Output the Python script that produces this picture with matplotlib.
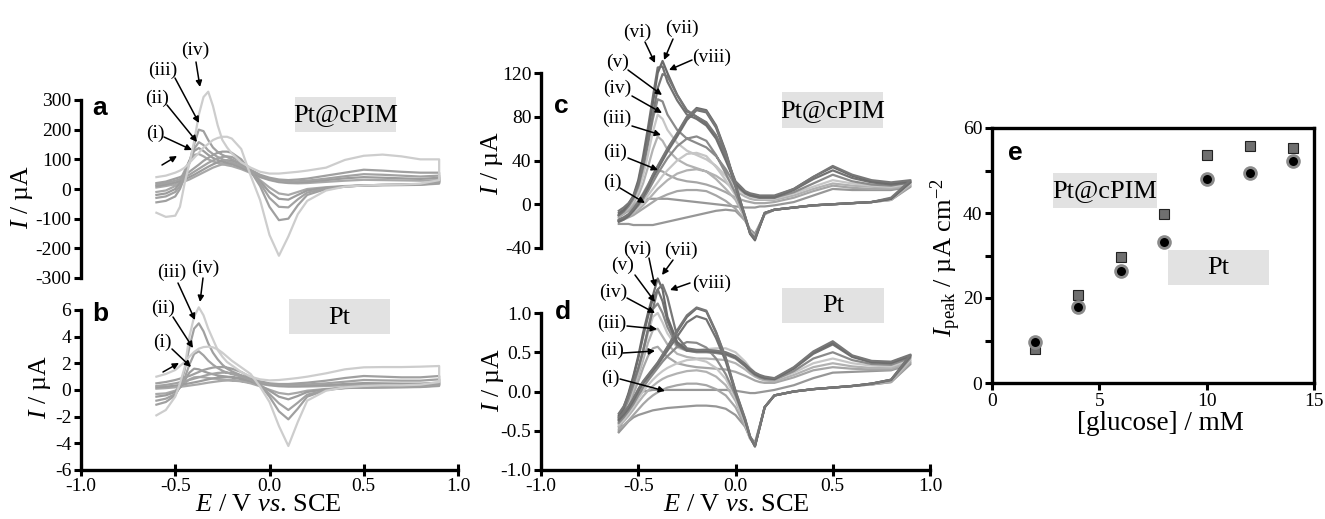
import numpy as np
import matplotlib
matplotlib.use('Agg')
import matplotlib.pyplot as plt
from matplotlib.patches import Rectangle

plt.rcParams['font.family'] = 'Liberation Serif'
plt.rcParams['mathtext.fontset'] = 'custom'
plt.rcParams['mathtext.rm'] = 'Liberation Serif'
plt.rcParams['mathtext.it'] = 'Liberation Serif:italic'
plt.rcParams['axes.unicode_minus'] = False

W, H = 1325, 519

# ---------------- data ----------------
# potential grids (V vs SCE), one sweep each way
E_ab = [-0.6, -0.55, -0.5, -0.475, -0.45, -0.425, -0.4, -0.375, -0.35, -0.325,
        -0.3, -0.275, -0.25, -0.225, -0.2, -0.15, -0.1, -0.05, 0.0, 0.05,
        0.1, 0.15, 0.2, 0.3, 0.4, 0.5, 0.6, 0.7, 0.8, 0.9]
E_cd = [-0.6, -0.575, -0.55, -0.525, -0.5, -0.475, -0.45, -0.425, -0.4, -0.375,
        -0.35, -0.3, -0.25, -0.2, -0.15, -0.1, -0.05, 0.0, 0.05, 0.075,
        0.1, 0.125, 0.15, 0.2, 0.3, 0.4, 0.5, 0.6, 0.7, 0.8, 0.9]

# panel a, Pt@cPIM (uA): forward sweep / reverse sweep
a0_fwd = [-10, -5, 10, 30, 62, 95, 115, 118, 110, 100, 93, 88, 84, 80, 77, 67, 54, 40, 30, 23, 20, 19, 20, 24, 28, 31, 30, 29, 28, 30]
a0_rev = [5, 10, 16, 20, 26, 32, 40, 48, 56, 64, 72, 78, 83, 86, 86, 78, 56, 30, 5, -15, -20, -10, 0, 6, 10, 12, 13, 13, 14, 18]
a1_fwd = [-20, -15, 0, 20, 55, 95, 128, 138, 128, 115, 105, 98, 92, 88, 84, 72, 58, 42, 32, 25, 22, 22, 24, 30, 36, 40, 38, 36, 34, 38]
a1_rev = [10, 15, 22, 27, 33, 40, 48, 57, 66, 75, 83, 90, 95, 97, 96, 85, 58, 25, -10, -33, -36, -20, -5, 4, 9, 12, 13, 14, 15, 20]
a2_fwd = [-30, -25, -10, 10, 45, 90, 135, 158, 148, 130, 118, 108, 100, 95, 90, 78, 62, 45, 35, 28, 25, 26, 28, 35, 43, 50, 48, 45, 42, 45]
a2_rev = [15, 20, 28, 33, 40, 48, 58, 68, 78, 88, 96, 103, 108, 110, 108, 92, 60, 20, -30, -60, -62, -35, -12, 2, 8, 12, 14, 15, 16, 22]
a3_fwd = [-45, -40, -25, 0, 40, 90, 150, 200, 195, 165, 140, 125, 115, 108, 100, 85, 65, 48, 38, 32, 30, 32, 35, 45, 55, 65, 62, 58, 55, 55]
a3_rev = [20, 25, 35, 40, 48, 58, 70, 82, 95, 105, 115, 122, 126, 126, 122, 100, 60, 10, -60, -105, -100, -55, -20, 0, 8, 12, 14, 15, 17, 25]
a4_fwd = [-80, -94, -90, -60, 20, 85, 160, 250, 310, 328, 280, 215, 165, 140, 120, 90, 72, 58, 52, 52, 55, 58, 62, 72, 98, 112, 116, 110, 100, 100]
a4_rev = [40, 45, 55, 62, 72, 88, 105, 122, 140, 152, 165, 172, 176, 176, 170, 135, 45, -37, -155, -225, -160, -85, -40, -5, 8, 12, 14, 15, 18, 30]

# panel b, Pt (uA)
b0_fwd = [-0.3, -0.25, -0.05, 0.2, 0.5, 0.8, 0.95, 0.98, 0.95, 0.9, 0.86, 0.83, 0.8, 0.77, 0.74, 0.67, 0.57, 0.45, 0.35, 0.28, 0.25, 0.25, 0.26, 0.3, 0.35, 0.4, 0.4, 0.39, 0.39, 0.45]
b0_rev = [0.1, 0.14, 0.2, 0.24, 0.28, 0.33, 0.38, 0.43, 0.49, 0.55, 0.6, 0.65, 0.69, 0.71, 0.71, 0.65, 0.5, 0.28, 0.02, -0.22, -0.32, -0.2, -0.05, 0.08, 0.15, 0.17, 0.19, 0.2, 0.22, 0.3]
b1_fwd = [-0.5, -0.4, -0.15, 0.2, 0.7, 1.3, 1.6, 1.55, 1.4, 1.28, 1.18, 1.1, 1.04, 0.98, 0.93, 0.82, 0.68, 0.52, 0.4, 0.32, 0.3, 0.3, 0.32, 0.38, 0.45, 0.52, 0.5, 0.48, 0.48, 0.55]
b1_rev = [0.2, 0.25, 0.33, 0.38, 0.44, 0.5, 0.57, 0.64, 0.72, 0.8, 0.87, 0.93, 0.97, 0.99, 0.98, 0.88, 0.66, 0.35, -0.05, -0.5, -0.7, -0.45, -0.15, 0.05, 0.15, 0.18, 0.2, 0.22, 0.24, 0.35]
b2_fwd = [-0.8, -0.65, -0.3, 0.2, 0.9, 1.9, 2.7, 2.9, 2.6, 2.2, 1.9, 1.65, 1.45, 1.3, 1.2, 1.0, 0.8, 0.6, 0.45, 0.38, 0.36, 0.38, 0.42, 0.5, 0.62, 0.75, 0.72, 0.7, 0.7, 0.8]
b2_rev = [0.3, 0.38, 0.5, 0.58, 0.66, 0.75, 0.85, 0.95, 1.05, 1.15, 1.22, 1.28, 1.3, 1.3, 1.26, 1.08, 0.78, 0.35, -0.3, -1.0, -1.5, -0.95, -0.35, 0.0, 0.15, 0.2, 0.22, 0.24, 0.26, 0.4]
b3_fwd = [-1.1, -0.9, -0.4, 0.3, 1.5, 3.2, 4.6, 5.0, 4.4, 3.5, 2.8, 2.3, 1.9, 1.6, 1.4, 1.1, 0.85, 0.65, 0.5, 0.45, 0.45, 0.5, 0.55, 0.7, 0.9, 1.05, 1.0, 0.95, 0.95, 1.05]
b3_rev = [0.5, 0.6, 0.75, 0.85, 0.95, 1.05, 1.2, 1.35, 1.5, 1.6, 1.68, 1.72, 1.72, 1.68, 1.6, 1.35, 0.95, 0.4, -0.5, -1.6, -2.2, -1.4, -0.5, 0.0, 0.2, 0.25, 0.28, 0.3, 0.32, 0.5]
b4_fwd = [-1.9, -1.5, -0.5, 0.5, 1.7, 4.0, 5.5, 6.2, 5.6, 4.6, 3.8, 3.0, 2.5, 2.1, 1.85, 1.35, 1.0, 0.8, 0.72, 0.75, 0.82, 0.9, 1.0, 1.25, 1.55, 1.7, 1.72, 1.72, 1.75, 1.8]
b4_rev = [1.0, 1.2, 1.5, 1.8, 2.1, 2.5, 2.85, 3.1, 3.22, 3.25, 3.2, 3.05, 2.8, 2.5, 2.2, 1.7, 1.2, 0.25, -0.9, -2.7, -4.2, -2.4, -0.8, -0.05, 0.2, 0.3, 0.35, 0.35, 0.4, 0.6]

# panel c, Pt@cPIM (uA), curves (i)..(viii)
c1_fwd = [-10, -7, -4, -1, 2, 4, 5, 5, 5, 5, 5, 4, 3, 2, 1, 0, -1, -2, -3, -3, -3, -2, -2, -1, 2, 8, 14, 13, 13, 13, 16]
c1_rev = [-18, -18, -18, -19, -19, -19, -19, -19, -18, -17, -16, -14, -12, -10, -8, -6, -5, -6, -15, -23, -27, -18, -9, -5, -3, -1, 0, 1, 2, 4, 16]
c2_fwd = [-12, -9, -6, -2, 3, 10, 18, 26, 31, 30, 27, 23, 21, 20, 18, 15, 11, 6, 3, 2, 1, 1, 1, 2, 6, 12, 17, 15, 14, 14, 17]
c2_rev = [-16, -14, -12, -10, -7, -4, -1, 2, 5, 7, 9, 12, 13, 13, 12, 8, 3, -4, -15, -25, -29, -19, -9, -5, -3, -1, 0, 1, 2, 4, 17]
c3_fwd = [-11, -8, -4, 1, 8, 19, 34, 50, 62, 58, 50, 41, 36, 33, 30, 26, 20, 12, 7, 5, 4, 4, 4, 4, 8, 14, 19, 17, 16, 15, 18]
c3_rev = [-15, -13, -11, -8, -5, -1, 4, 9, 14, 18, 22, 28, 31, 32, 30, 23, 14, 4, -13, -25, -30, -20, -9, -5, -3, -1, 0, 1, 2, 4, 18]
c4_fwd = [-10, -7, -3, 3, 12, 26, 45, 66, 82, 78, 68, 56, 49, 45, 41, 35, 26, 15, 9, 7, 6, 5, 5, 5, 10, 16, 22, 19, 17, 16, 19]
c4_rev = [-14, -12, -10, -7, -3, 2, 8, 14, 20, 26, 31, 40, 46, 47, 44, 34, 22, 8, -12, -25, -30, -20, -8, -5, -3, -1, 0, 1, 2, 5, 19]
c5_fwd = [-10, -7, -2, 5, 16, 33, 55, 78, 96, 94, 82, 68, 60, 56, 52, 44, 32, 17, 10, 8, 7, 6, 6, 6, 11, 19, 27, 21, 18, 17, 20]
c5_rev = [-15, -13, -10, -6, -1, 5, 12, 20, 28, 35, 42, 53, 60, 62, 58, 45, 28, 10, -12, -26, -31, -20, -8, -5, -3, -1, 0, 1, 2, 5, 20]
c6_fwd = [-10, -6, 0, 8, 22, 44, 70, 98, 125, 126, 112, 95, 82, 78, 72, 60, 40, 19, 10, 8, 7, 6, 6, 6, 13, 23, 31, 24, 20, 18, 20]
c6_rev = [-16, -14, -11, -6, 0, 7, 15, 24, 32, 40, 48, 62, 77, 86, 84, 70, 46, 16, -12, -27, -32, -20, -8, -5, -3, -1, 0, 1, 2, 5, 20]
c7_fwd = [-8, -5, 0, 7, 20, 40, 65, 92, 120, 131, 120, 100, 85, 80, 74, 62, 42, 20, 11, 9, 8, 7, 7, 7, 14, 25, 34, 26, 21, 19, 21]
c7_rev = [-15, -13, -10, -5, 1, 8, 16, 26, 34, 42, 50, 64, 79, 88, 86, 72, 48, 18, -12, -27, -33, -20, -8, -5, -3, -1, 0, 1, 2, 5, 21]
c8_fwd = [-6, -3, 1, 7, 18, 36, 58, 82, 106, 119, 117, 100, 86, 80, 75, 63, 44, 21, 12, 10, 9, 8, 8, 8, 14, 25, 35, 27, 22, 20, 22]
c8_rev = [-14, -12, -9, -4, 2, 9, 17, 27, 35, 43, 51, 65, 80, 87, 85, 71, 47, 17, -11, -26, -31, -19, -8, -5, -3, -1, 0, 1, 2, 6, 22]

# panel d, Pt (uA), curves (i)..(viii)
d1_fwd = [-0.5, -0.35, -0.18, -0.07, -0.02, 0.0, 0.01, 0.02, 0.02, 0.02, 0.02, 0.02, 0.02, 0.02, 0.02, 0.02, 0.02, 0.01, -0.01, -0.02, -0.02, -0.01, 0.0, 0.02, 0.08, 0.17, 0.24, 0.25, 0.26, 0.27, 0.35]
d1_rev = [-0.52, -0.45, -0.38, -0.33, -0.3, -0.28, -0.26, -0.24, -0.23, -0.22, -0.21, -0.2, -0.19, -0.18, -0.18, -0.19, -0.22, -0.3, -0.45, -0.58, -0.65, -0.43, -0.2, -0.05, 0.0, 0.03, 0.05, 0.07, 0.09, 0.12, 0.35]
d2_fwd = [-0.45, -0.35, -0.2, -0.03, 0.13, 0.3, 0.45, 0.55, 0.57, 0.5, 0.44, 0.36, 0.33, 0.31, 0.3, 0.29, 0.28, 0.25, 0.2, 0.17, 0.14, 0.12, 0.11, 0.11, 0.18, 0.27, 0.31, 0.29, 0.28, 0.28, 0.37]
d2_rev = [-0.48, -0.43, -0.37, -0.3, -0.23, -0.16, -0.1, -0.05, -0.01, 0.02, 0.05, 0.08, 0.1, 0.1, 0.08, 0.03, -0.05, -0.2, -0.45, -0.6, -0.67, -0.45, -0.2, -0.05, 0.0, 0.03, 0.05, 0.07, 0.09, 0.12, 0.37]
d3_fwd = [-0.4, -0.3, -0.16, 0.02, 0.2, 0.4, 0.62, 0.78, 0.8, 0.7, 0.6, 0.48, 0.44, 0.42, 0.42, 0.41, 0.4, 0.36, 0.28, 0.23, 0.19, 0.16, 0.14, 0.13, 0.21, 0.31, 0.36, 0.32, 0.3, 0.3, 0.39]
d3_rev = [-0.44, -0.38, -0.31, -0.23, -0.14, -0.06, 0.01, 0.07, 0.12, 0.16, 0.19, 0.23, 0.26, 0.27, 0.25, 0.19, 0.08, -0.12, -0.42, -0.6, -0.68, -0.45, -0.2, -0.05, 0.0, 0.03, 0.05, 0.07, 0.09, 0.13, 0.39]
d4_fwd = [-0.38, -0.28, -0.13, 0.05, 0.25, 0.48, 0.74, 0.95, 1.0, 0.88, 0.74, 0.56, 0.52, 0.52, 0.54, 0.55, 0.55, 0.5, 0.38, 0.3, 0.24, 0.2, 0.17, 0.15, 0.24, 0.36, 0.42, 0.36, 0.33, 0.32, 0.41]
d4_rev = [-0.42, -0.36, -0.28, -0.19, -0.09, 0.0, 0.08, 0.15, 0.21, 0.26, 0.3, 0.36, 0.4, 0.41, 0.38, 0.3, 0.16, -0.08, -0.4, -0.6, -0.69, -0.45, -0.2, -0.05, 0.0, 0.03, 0.05, 0.07, 0.1, 0.14, 0.41]
d5_fwd = [-0.35, -0.25, -0.1, 0.08, 0.28, 0.52, 0.8, 1.05, 1.12, 1.0, 0.82, 0.58, 0.52, 0.5, 0.5, 0.49, 0.47, 0.42, 0.32, 0.26, 0.21, 0.18, 0.16, 0.15, 0.26, 0.42, 0.5, 0.4, 0.35, 0.34, 0.43]
d5_rev = [-0.4, -0.33, -0.25, -0.16, -0.05, 0.05, 0.14, 0.22, 0.3, 0.38, 0.45, 0.57, 0.63, 0.62, 0.56, 0.42, 0.22, -0.05, -0.38, -0.58, -0.69, -0.45, -0.2, -0.05, 0.0, 0.03, 0.05, 0.07, 0.1, 0.14, 0.43]
d6_fwd = [-0.32, -0.22, -0.04, 0.18, 0.42, 0.7, 0.95, 1.18, 1.3, 1.15, 0.9, 0.6, 0.52, 0.51, 0.51, 0.5, 0.48, 0.43, 0.33, 0.27, 0.22, 0.19, 0.17, 0.16, 0.29, 0.48, 0.6, 0.44, 0.37, 0.36, 0.45]
d6_rev = [-0.37, -0.3, -0.22, -0.12, 0.0, 0.1, 0.18, 0.26, 0.34, 0.43, 0.52, 0.7, 0.88, 0.96, 0.92, 0.68, 0.38, -0.02, -0.37, -0.58, -0.7, -0.45, -0.2, -0.05, 0.0, 0.03, 0.05, 0.07, 0.1, 0.15, 0.45]
d7_fwd = [-0.3, -0.2, -0.02, 0.2, 0.45, 0.75, 1.0, 1.22, 1.44, 1.3, 0.95, 0.63, 0.53, 0.52, 0.52, 0.51, 0.49, 0.44, 0.34, 0.28, 0.23, 0.2, 0.18, 0.16, 0.3, 0.5, 0.62, 0.45, 0.38, 0.37, 0.46]
d7_rev = [-0.35, -0.28, -0.2, -0.1, 0.02, 0.12, 0.2, 0.28, 0.36, 0.46, 0.56, 0.76, 0.95, 1.06, 1.02, 0.75, 0.42, 0.0, -0.36, -0.58, -0.7, -0.45, -0.2, -0.05, 0.0, 0.03, 0.05, 0.07, 0.1, 0.15, 0.46]
d8_fwd = [-0.28, -0.19, -0.05, 0.12, 0.3, 0.52, 0.78, 1.05, 1.3, 1.36, 1.2, 0.7, 0.55, 0.53, 0.53, 0.52, 0.5, 0.45, 0.35, 0.29, 0.24, 0.21, 0.19, 0.17, 0.31, 0.51, 0.64, 0.46, 0.39, 0.38, 0.47]
d8_rev = [-0.33, -0.27, -0.19, -0.09, 0.03, 0.13, 0.21, 0.29, 0.37, 0.47, 0.57, 0.78, 0.97, 1.07, 1.03, 0.76, 0.43, 0.01, -0.35, -0.57, -0.69, -0.44, -0.2, -0.05, 0.0, 0.03, 0.05, 0.07, 0.1, 0.15, 0.47]

# panel e
glucose = [2, 4, 6, 8, 10, 12, 14]
ipeak_cpim = [8.0, 20.8, 29.6, 39.8, 53.7, 55.7, 55.3]
ipeak_pt = [9.6, 18.0, 26.3, 33.1, 48.0, 49.3, 52.3]

x_ticks = [-1.0, -0.5, 0.0, 0.5, 1.0]
x_ticklabels = ['-1.0', '-0.5', '0.0', '0.5', '1.0']
a_ticks = [300, 200, 100, 0, -100, -200, -300]
b_ticks = [6, 4, 2, 0, -2, -4, -6]
c_ticks = [120, 80, 40, 0, -40]
d_ticks = [1.0, 0.5, 0.0, -0.5, -1.0]
d_ticklabels = ['1.0', '0.5', '0.0', '-0.5', '-1.0']

col_ab = ['#a8a8a8', '#9c9c9c', '#a2a2a2', '#a0a0a0', '#cdcdcd']
col_cd = ['#979797', '#a6a6a6', '#b2b2b2', '#c6c6c6', '#8a8a8a', '#727272', '#6a6a6a', '#777777']

# ---------------- drawing ----------------
fig = plt.figure(figsize=(W / 100, H / 100), dpi=100)


def px_rect(l, t, r, b):
    return [l / W, 1 - b / H, (r - l) / W, (b - t) / H]


def ftext(x, y, s, **kw):
    fig.text(x / W, 1 - y / H, s, **kw)


def cv_axes(rect, ylim, yticks, yticklabels, show_x):
    ax = fig.add_axes(px_rect(*rect))
    ax.set_xlim(-1, 1)
    ax.set_ylim(*ylim)
    ax.spines['top'].set_visible(False)
    ax.spines['right'].set_visible(False)
    ax.spines['left'].set_linewidth(2.4)
    ax.set_yticks(yticks)
    ax.set_yticklabels(yticklabels)
    ax.tick_params(axis='y', direction='out', length=5, width=2.2, labelsize=14, pad=2)
    if show_x:
        ax.spines['bottom'].set_linewidth(2.4)
        ax.set_xticks(x_ticks)
        ax.set_xticklabels(x_ticklabels)
        ax.tick_params(axis='x', direction='inout', length=9, width=2.2, labelsize=14, pad=1)
    else:
        ax.spines['bottom'].set_visible(False)
        ax.tick_params(axis='x', bottom=False, labelbottom=False)
    return ax


def draw_cv(ax, E, curves, colors):
    E = np.asarray(E)
    for (fwd, rev), c in zip(curves, colors):
        ax.plot(np.r_[E, E[::-1]], np.r_[fwd, rev[::-1]], color=c, lw=1.6,
                solid_joinstyle='round', clip_on=False)


ax_a = cv_axes((81, 100, 458, 278), (-300, 300), a_ticks, [str(t) for t in a_ticks], False)
ax_b = cv_axes((81, 310, 458, 470), (-6, 6), b_ticks, [str(t) for t in b_ticks], True)
ax_c = cv_axes((541, 73, 930, 248), (-40, 120), c_ticks, [str(t) for t in c_ticks], False)
ax_d = cv_axes((541, 313, 930, 470), (-1, 1), d_ticks, d_ticklabels, True)

draw_cv(ax_a, E_ab, [(a0_fwd, a0_rev), (a1_fwd, a1_rev), (a2_fwd, a2_rev),
                     (a3_fwd, a3_rev), (a4_fwd, a4_rev)], col_ab)
draw_cv(ax_b, E_ab, [(b0_fwd, b0_rev), (b1_fwd, b1_rev), (b2_fwd, b2_rev),
                     (b3_fwd, b3_rev), (b4_fwd, b4_rev)], col_ab)
draw_cv(ax_c, E_cd, [(c1_fwd, c1_rev), (c2_fwd, c2_rev), (c3_fwd, c3_rev), (c4_fwd, c4_rev),
                     (c5_fwd, c5_rev), (c6_fwd, c6_rev), (c7_fwd, c7_rev), (c8_fwd, c8_rev)], col_cd)
draw_cv(ax_d, E_cd, [(d1_fwd, d1_rev), (d2_fwd, d2_rev), (d3_fwd, d3_rev), (d4_fwd, d4_rev),
                     (d5_fwd, d5_rev), (d6_fwd, d6_rev), (d7_fwd, d7_rev), (d8_fwd, d8_rev)], col_cd)

# panel e
ax_e = fig.add_axes(px_rect(992, 128, 1314, 383))
ax_e.plot(glucose, ipeak_cpim, 's', ms=7.5, mfc='#6f6f6f', mec='#222222', mew=0.8, ls='none', clip_on=False)
ax_e.plot(glucose, ipeak_pt, 'o', ms=8.5, mfc='black', mec='#8a8a8a', mew=2, ls='none', clip_on=False)
ax_e.set_xlim(0, 15)
ax_e.set_ylim(0, 60)
ax_e.set_xticks([0, 5, 10, 15])
ax_e.set_yticks([0, 20, 40, 60])
ax_e.set_yticks([10, 30, 50], minor=True)
for s in ax_e.spines.values():
    s.set_linewidth(2.4)
ax_e.tick_params(axis='both', which='both', direction='out', length=5, width=2.2, labelsize=14, pad=2)

# axis labels
for x, y in [(22, 197), (40, 387), (492, 163), (493, 380)]:
    ftext(x, y, '$I$ / µA', rotation=90, ha='center', va='center', fontsize=18.5)
for x in [268, 736]:
    ftext(x, 505, '$E$ / V $vs$. SCE', ha='center', va='center', fontsize=19)
ftext(1160, 423, '[glucose] / mM', ha='center', va='center', fontsize=19.5)
ftext(946, 258, r'$I_{\rm peak}$ / µA cm$^{-2}$', rotation=90, ha='center', va='center', fontsize=19)

# panel letters
for x, y, s in [(100, 108, 'a'), (100, 314, 'b'), (561, 106, 'c'), (563, 312, 'd'), (1015, 153, 'e')]:
    ftext(x, y, s, ha='center', va='center', fontsize=19, fontweight='bold', family='Liberation Sans')

# grey boxed electrode labels
for l, t, r, b, s in [(295, 97, 396, 132, 'Pt@cPIM'), (289, 299, 390, 334, 'Pt'),
                      (782, 92, 883, 128, 'Pt@cPIM'), (782, 288, 884, 323, 'Pt'),
                      (1053, 173, 1157, 208, 'Pt@cPIM'), (1168, 250, 1269, 285, 'Pt')]:
    fig.add_artist(Rectangle((l / W, 1 - b / H), (r - l) / W, (b - t) / H,
                             transform=fig.transFigure, facecolor='#e2e2e2', edgecolor='none', zorder=1))
    ftext((l + r) / 2, (t + b) / 2 + 1, s, ha='center', va='center', fontsize=19, zorder=2)

# concentration labels with arrows (figure pixels, from top)
labels = [
    ('(iv)', 195, 50), ('(iii)', 163, 70), ('(ii)', 157, 98), ('(i)', 155, 133),
    ('(iv)', 205, 268), ('(iii)', 172, 272), ('(ii)', 163, 308), ('(i)', 162, 342),
    ('(vi)', 637, 32), ('(vii)', 682, 28), ('(viii)', 712, 57), ('(v)', 618, 62),
    ('(iv)', 617, 88), ('(iii)', 617, 118), ('(ii)', 615, 152), ('(i)', 612, 182),
    ('(vi)', 637, 249), ('(vii)', 681, 250), ('(viii)', 712, 283), ('(v)', 623, 265),
    ('(iv)', 613, 292), ('(iii)', 612, 323), ('(ii)', 612, 350), ('(i)', 610, 378),
]
for s, x, y in labels:
    ftext(x, y, s, ha='center', va='center', fontsize=14)

arrows = [
    (196, 62, 200, 87), (175, 78, 199, 123), (167, 105, 197, 142), (164, 137, 192, 150), (162, 165, 177, 156),
    (203, 278, 200, 302), (178, 283, 195, 320), (173, 317, 193, 348), (172, 349, 191, 367), (163, 372, 179, 363),
    (645, 42, 655, 63), (673, 39, 664, 60), (692, 60, 669, 70), (628, 70, 662, 95),
    (632, 96, 662, 113), (632, 126, 661, 135), (628, 158, 658, 170), (620, 188, 645, 203),
    (649, 258, 655, 287), (673, 260, 662, 275), (690, 283, 670, 290), (635, 275, 655, 302),
    (627, 298, 655, 313), (627, 326, 657, 329), (623, 353, 655, 351), (620, 379, 665, 391),
]
for x0, y0, x1, y1 in arrows:
    ax_e.annotate('', xy=(x1, H - y1), xytext=(x0, H - y0), xycoords='figure pixels',
                  textcoords='figure pixels', annotation_clip=False,
                  arrowprops=dict(arrowstyle='-|>', color='black', lw=1.1,
                                  mutation_scale=9, shrinkA=0, shrinkB=0))

fig.savefig('out.png', dpi=100)
